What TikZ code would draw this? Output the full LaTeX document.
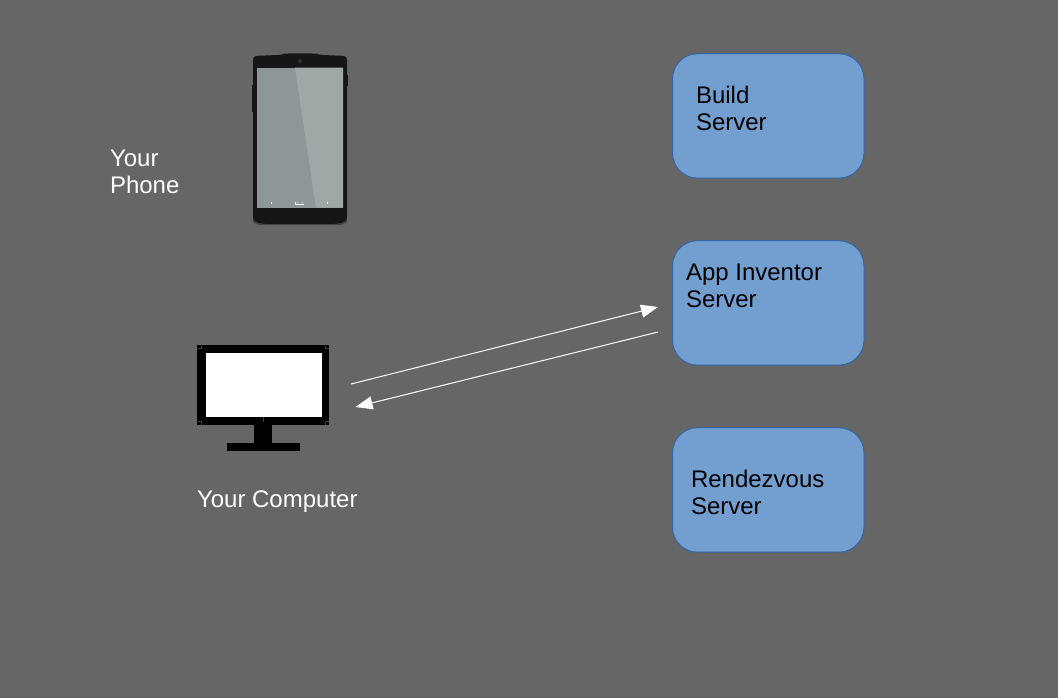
\documentclass[tikz,border=0pt]{standalone}
\usepackage{fontspec}
\setmainfont{Liberation Sans}
\usetikzlibrary{arrows.meta}
\definecolor{bgc}{HTML}{666666}
\definecolor{boxfill}{HTML}{729FCF}
\definecolor{boxline}{HTML}{3465A4}
\definecolor{phonebody}{HTML}{161616}
\definecolor{screendark}{HTML}{8D9797}
\definecolor{screenlight}{HTML}{A0A8A5}
\tikzset{
  serverbox/.style={draw=boxline,fill=boxfill,line width=1pt,rounded corners=25pt,minimum width=191.5pt,minimum height=124.5pt,inner sep=0pt,outer sep=0pt,anchor=north west},
  txt/.style={font=\fontsize{24}{27}\selectfont,align=left,inner sep=0pt,outer sep=0pt,anchor=west},
  whitetxt/.style={txt,text=white},
  blacktxt/.style={txt,text=black},
  flow/.style={draw=white,line width=1pt,-{Triangle[length=17pt,width=13pt,fill=white]}},
  monitormark/.style={draw=bgc!60!black,line width=0.5pt}
}
\begin{document}
\begin{tikzpicture}[x=1pt,y=-1pt]
\fill[bgc] (0,0) rectangle (1058,698);
\useasboundingbox (0,0) rectangle (1058,698);
% phone
\fill[black!35!bgc,rounded corners=3pt] (254,216) -- (346,216) -- (348,222) -- (342,225) -- (258,225) -- (252,222) -- cycle;
\fill[phonebody] (252,85) rectangle (254,112);
\fill[phonebody] (346,75) rectangle (348,86);
\fill[phonebody,rounded corners=3.5pt] (253,56) -- (283,54.8) -- (285,53.5) -- (316,53.5) -- (318,54.8) -- (347,56) -- (347,221) -- (338,223.8) -- (262,223.8) -- (253,221) -- cycle;
\fill[screendark] (257,67.7) rectangle (343,207.7);
\fill[screenlight] (295,67.7) -- (343,67.7) -- (343,207.7) -- (316,207.7) -- cycle;
\fill[black!50!bgc] (300,61) circle (2pt);
\fill[white] (271,201.5) rectangle (271.8,203.5);
\fill[white] (327,201.5) rectangle (327.8,203.5);
\fill[white] (295,202) rectangle (296,205);
\fill[white] (295,204) rectangle (304,205);
\fill[white] (297,201.5) rectangle (298,202.5);
\fill[white] (301.5,201.5) rectangle (302.5,202.5);
% monitor
\fill[black] (197,345) rectangle (329,425);
\fill[white] (205.5,353) rectangle (321.5,416.5);
\fill[black] (253.5,425) rectangle (272,443);
\fill[black] (227,443) rectangle (299.5,451);
\draw[monitormark] (197.5,348.5) -- (201,348.5) -- (201,345.5);
\draw[monitormark] (328.5,348.5) -- (325,348.5) -- (325,345.5);
\draw[monitormark] (197.5,421) -- (201,421) -- (201,424.5);
\draw[monitormark] (328.5,421) -- (325,421) -- (325,424.5);
\draw[monitormark] (263.5,416.5) -- (263.5,422);
% servers
\node[serverbox] (build) at (672.5,53.7) {};
\node[serverbox] (appinv) at (672.5,240.7) {};
\node[serverbox] (rendez) at (672.5,427.7) {};
\node[blacktxt] (buildtxt) at (696,108.5) {Build\\Server};
\node[blacktxt] (appinvtxt) at (686,285.5) {App Inventor\\Server};
\node[blacktxt] (rendeztxt) at (691,492.5) {Rendezvous\\Server};
% labels
\node[whitetxt] (phonetxt) at (110,171.5) {Your\\Phone};
\node[whitetxt] (comptxt) at (197,501.5) {Your Computer};
% connectors
\coordinate (a1) at (351,384);
\coordinate (a2) at (658,307);
\coordinate (b1) at (658,332);
\coordinate (b2) at (355.5,407);
\draw[flow] (a1) -- (a2);
\draw[flow] (b1) -- (b2);
\end{tikzpicture}
\end{document}
